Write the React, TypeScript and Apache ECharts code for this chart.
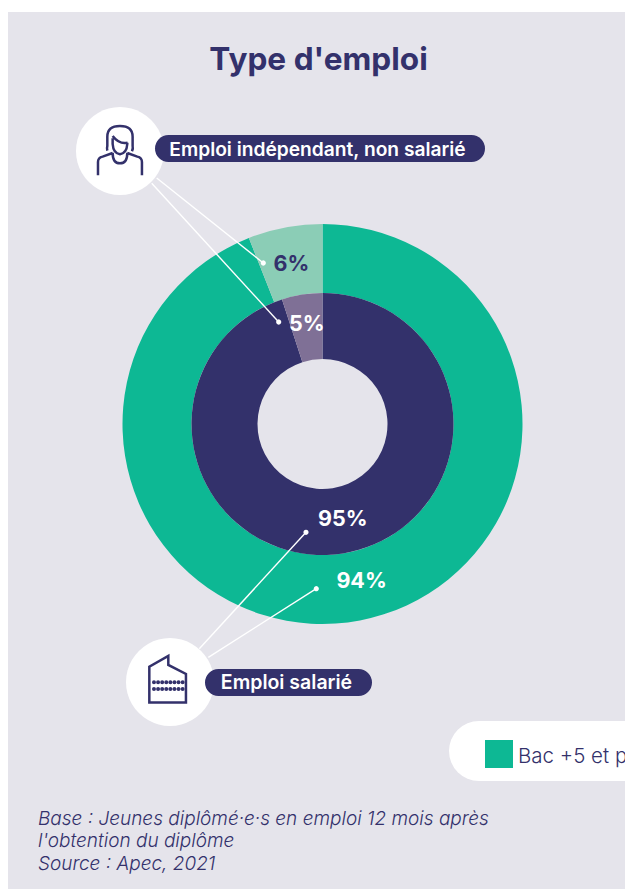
import React, { useEffect, useRef } from "react";
import * as echarts from "echarts";

const categories = ["Emploi salarié", "Emploi indépendant, non salarié"];
const bac5Values = [94, 6];
const otherValues = [95, 5];
const bac5Colors = ["#0DB894", "#8BCDB6"];
const otherColors = ["#33316B", "#7F7096"];
const legendLabels = ["Bac +5 et plus"];
const titleText = "Type d'emploi";
const footnotes = [
  "Base : Jeunes diplômé·e·s en emploi 12 mois après",
  "l'obtention du diplôme",
  "Source : Apec, 2021",
];
const NAVY = "#33316B";
const TEAL = "#0DB894";
const PANEL = "#E5E4EB";
const FONT = "Inter, 'Noto Sans', sans-serif";

const personIcon =
  "M52 92 Q50 85 52 78 V50 Q52 18 90 18 Q128 18 128 50 V78 Q130 85 126 94 " +
  "M68 48 Q88 74 113 68 M68 55 V72 Q70 100 90 103 Q110 100 112 72 V68 " +
  "M68 98 Q68 130 90 130 Q112 130 112 98 " +
  "M24 166 V126 Q24 113 38 110 L68 99 M112 99 L142 110 Q156 113 156 126 V166";

const buildingOutline = "M28 158 V50 L85 18 V45 L138 72 V158 Z";
let buildingDots = "";
for (const y of [97, 117]) {
  for (let i = 0; i < 8; i++) {
    const x = 42 + i * 12.3;
    buildingDots += `M${x - 6} ${y} a6 6 0 1 0 12 0 a6 6 0 1 0 -12 0 `;
  }
}

echarts.graphic.registerShape("personIcon", echarts.graphic.extendPath(personIcon, {}));
echarts.graphic.registerShape("buildingOutline", echarts.graphic.extendPath(buildingOutline, {}));
echarts.graphic.registerShape("buildingDots", echarts.graphic.extendPath(buildingDots, {}));

const labelShift: Record<string, [number, number]> = {
  "outer-0": [7.5, -10],
  "outer-1": [0.5, 5],
  "inner-0": [4.5, -6],
  "inner-1": [0, -1],
};

const leaders: number[][] = [
  [156.7, 178, 263.3, 263],
  [151.7, 183.3, 278.7, 322],
  [199.3, 648.7, 306, 532.3],
  [208.3, 657.3, 316.3, 588.7],
];

function pie(id: string, radius: number[], values: number[], colors: string[], labelColors: string[]) {
  return {
    type: "pie",
    id,
    name: id,
    center: [322.5, 424],
    radius,
    startAngle: 90,
    clockwise: true,
    silent: true,
    z: 2,
    labelLine: { show: false },
    label: {
      show: true,
      position: "inside",
      formatter: "{c}%",
      fontFamily: FONT,
      fontWeight: 700,
      fontSize: 21.5,
    },
    labelLayout: (p: any) => {
      const s = labelShift[`${id}-${p.dataIndex}`];
      return { dx: s[0], dy: s[1] };
    },
    data: categories.map((name, i) => ({
      name,
      value: values[i],
      itemStyle: { color: colors[i] },
      label: { color: labelColors[i] },
    })),
  };
}

export default function App() {
  const ref = useRef<HTMLDivElement>(null);
  useEffect(() => {
    const chart = echarts.init(ref.current!, null, { renderer: "svg" });
    const elements: any[] = [
      { type: "rect", z: 0, shape: { x: 8, y: 12, width: 617, height: 877 }, style: { fill: PANEL } },
      { type: "circle", z: 5, shape: { cx: 120, cy: 151, r: 44 }, style: { fill: "#fff" } },
      { type: "circle", z: 5, shape: { cx: 170, cy: 682, r: 44 }, style: { fill: "#fff" } },
      { type: "personIcon", z: 6, x: 90, y: 120, scaleX: 1 / 3, scaleY: 1 / 3, style: { fill: "none", stroke: NAVY, lineWidth: 7.5 } },
      { type: "buildingOutline", z: 6, x: 140, y: 650, scaleX: 1 / 3, scaleY: 1 / 3, style: { fill: "none", stroke: NAVY, lineWidth: 7.5 } },
      { type: "buildingDots", z: 6, x: 140, y: 650, scaleX: 1 / 3, scaleY: 1 / 3, style: { fill: NAVY } },
      { type: "rect", z: 6, shape: { x: 155, y: 135, width: 330, height: 27, r: 13.5 }, style: { fill: NAVY } },
      { type: "rect", z: 6, shape: { x: 205, y: 669, width: 167, height: 27, r: 13.5 }, style: { fill: NAVY } },
      { type: "text", z: 7, x: 317.5, y: 148.5, style: { text: categories[1], fill: "#fff", font: `600 19.2px ${FONT}`, textAlign: "center", textVerticalAlign: "middle" } },
      { type: "text", z: 7, x: 286.5, y: 682, style: { text: categories[0], fill: "#fff", font: `600 19.5px ${FONT}`, textAlign: "center", textVerticalAlign: "middle" } },
      { type: "text", z: 7, x: 318.5, y: 58.5, style: { text: titleText, fill: NAVY, font: `700 31.6px ${FONT}`, textAlign: "center", textVerticalAlign: "middle" } },
      { type: "rect", z: 3, shape: { x: 449, y: 721, width: 220, height: 60, r: 30 }, style: { fill: "#fff" } },
      { type: "rect", z: 4, shape: { x: 485, y: 740, width: 28, height: 28 }, style: { fill: TEAL } },
      { type: "text", z: 4, x: 518, y: 755, style: { text: legendLabels[0], fill: NAVY, font: `300 20.5px ${FONT}`, textVerticalAlign: "middle" } },
    ];
    leaders.forEach(([x1, y1, x2, y2]) => {
      elements.push({ type: "line", z: 4, shape: { x1, y1, x2, y2 }, style: { stroke: "#fff", lineWidth: 1.4 } });
      elements.push({ type: "circle", z: 4, shape: { cx: x2, cy: y2, r: 2.6 }, style: { fill: "#fff" } });
    });
    footnotes.forEach((text, i) => {
      elements.push({ type: "text", z: 3, x: 38, y: 818 + i * 22.5, style: { text, fill: NAVY, font: `italic 300 19px ${FONT}`, textVerticalAlign: "middle" } });
    });
    chart.setOption({
      animation: false,
      backgroundColor: "#fff",
      series: [
        pie("outer", [131, 200], bac5Values, bac5Colors, ["#fff", NAVY]),
        pie("inner", [65, 131], otherValues, otherColors, ["#fff", "#fff"]),
      ],
      graphic: { elements },
    });
    return () => chart.dispose();
  }, []);
  return <div ref={ref} style={{ position: "absolute", left: 0, top: 0, width: 625, height: 889 }} />;
}
